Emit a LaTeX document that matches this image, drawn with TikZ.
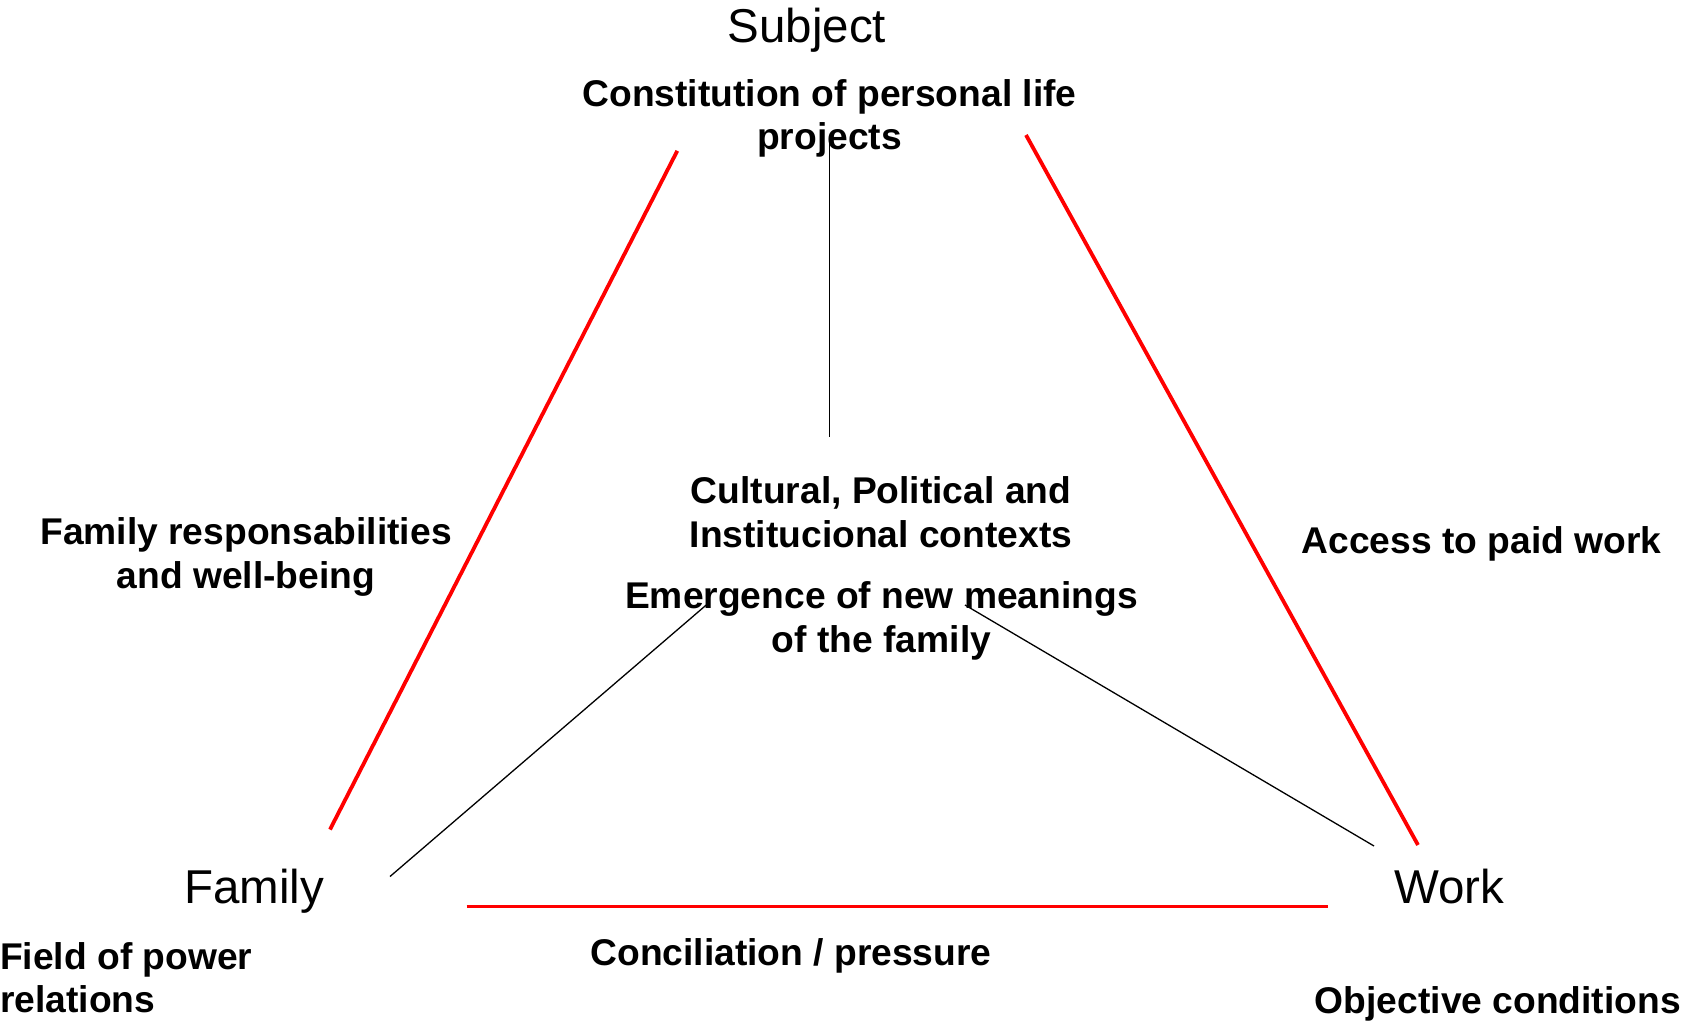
\documentclass[tikz,border=0pt]{standalone}
\usepackage{fontspec}
\setmainfont{Liberation Sans}
\begin{document}
\begin{tikzpicture}[x=1pt,y=-1pt,
  corner/.style={inner sep=0pt, font=\fontsize{47.5}{56}\selectfont},
  boldlabel/.style={inner sep=0pt, align=center, font=\fontsize{37.2}{43.5}\selectfont\bfseries},
  redline/.style={draw=red, line width=3.8pt},
  thinline/.style={draw=black, line width=1.3pt}]
\useasboundingbox[fill=white] (0,0) rectangle (1681,1020);

% corner titles
\node[corner, anchor=base] (subject) at (807,42) {Subject};
\node[corner, anchor=base] (family) at (254,903) {Family};
\node[corner, anchor=base] (work) at (1449,903) {Work};

% bold labels (base anchor sits on the last line)
\node[boldlabel, anchor=base] (constitution) at (829.5,149.5) {Constitution of personal life\\projects};
\node[boldlabel, anchor=base] (contexts) at (881,547) {Cultural, Political and\\Institucional contexts};
\node[boldlabel, anchor=base] (meanings) at (881.5,652) {Emergence of new meanings\\of the family};
\node[boldlabel, anchor=base] (famresp) at (246,588) {Family responsabilities\\and well-being};
\node[boldlabel, anchor=base] (access) at (1481.5,553) {Access to paid work};
\node[boldlabel, anchor=base] (concil) at (791,965) {Conciliation / pressure};
\node[boldlabel, anchor=base west, align=left] (power) at (0,1012.7) {Field of power\\relations};
\node[boldlabel, anchor=base east] (objective) at (1681,1013) {Objective conditions};

% end points of the triangle sides and inner spokes
\coordinate (sf1) at (677.3,150.8);
\coordinate (sf2) at (330,829.5);
\coordinate (sw1) at (1026,135);
\coordinate (sw2) at (1418,845);
\coordinate (fw1) at (466.5,906.5);
\coordinate (fw2) at (1327.5,906.5);
\coordinate (v1) at (829.3,142);
\coordinate (v2) at (829.3,437);
\coordinate (ml1) at (708,603.5);
\coordinate (ml2) at (390,876.5);
\coordinate (mr1) at (965,605);
\coordinate (mr2) at (1374,846);

% red triangle sides
\draw[redline] (sf1) -- (sf2);
\draw[redline] (sw1) -- (sw2);
\draw[redline] (fw1) -- (fw2);

% black spokes
\draw[thinline] (v1) -- (v2);
\draw[thinline] (ml1) -- (ml2);
\draw[thinline] (mr1) -- (mr2);
\end{tikzpicture}
\end{document}
